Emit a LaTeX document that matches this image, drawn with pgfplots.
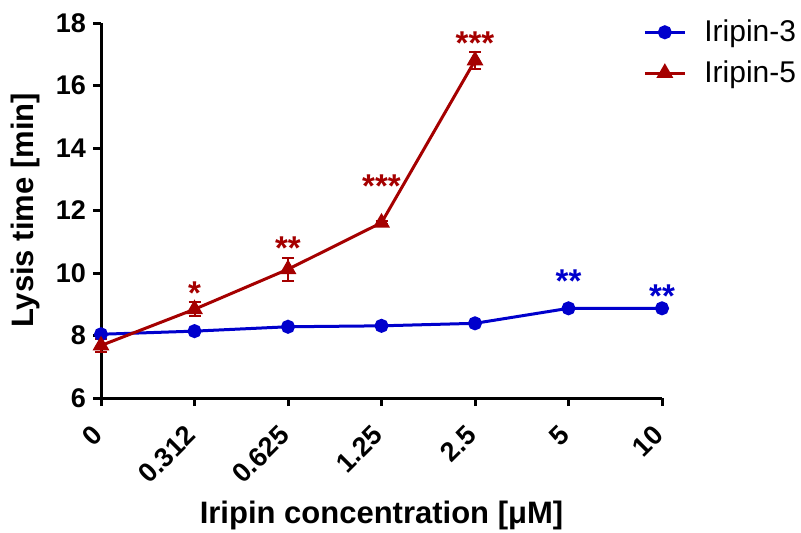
\documentclass[border=0pt]{standalone}
\usepackage{fontspec}
\setmainfont{Liberation Sans}
\usepackage{pgfplots}
\pgfplotsset{compat=1.18}
\definecolor{iriblue}{RGB}{0,0,204}
\definecolor{irired}{RGB}{165,0,0}
\tikzset{stars/.style={font=\bfseries\fontsize{16.5}{18}\selectfont, anchor=base, yshift=-9.6pt}}
\begin{document}
\begin{tikzpicture}
\useasboundingbox (-50.5pt,-67pt) rectangle (350pt,199pt);
\begin{axis}[
    at={(0,0)}, anchor=south west,
    scale only axis, width=280.5pt, height=187.5pt,
    axis lines=left,
    axis line style={-, line width=1.5pt},
    xmin=0, xmax=6, ymin=6, ymax=18,
    xtick={0,...,6},
    xticklabels={0,0.312,0.625,1.25,2.5,5,10},
    ytick={6,8,...,18},
    tick align=outside, major tick length=4pt,
    tick style={line width=1.5pt, black},
    tick label style={font=\bfseries\fontsize{13.5}{16}\selectfont},
    /pgf/number format/assume math mode=true,
    xticklabel style={rotate=45, anchor=east, xshift=1pt},
    xticklabel shift=10.5pt,
    xlabel={Iripin concentration [μM]},
    ylabel={Lysis time [min]},
    label style={font=\bfseries\fontsize{15.5}{18}\selectfont},
    xlabel style={at={(axis description cs:0.5,-0.3333)}, anchor=base},
    ylabel style={at={(axis description cs:-0.121,0.5)}, anchor=base},
    clip=false,
    legend style={draw=none, fill=none, inner sep=0pt,
        at={(axis description cs:0.966,1.02)}, anchor=north west,
        font=\fontsize{15}{18}\selectfont, row sep=4pt},
    legend cell align=left,
    legend image code/.code={\draw[mark repeat=2, mark phase=2]
        plot coordinates {(0pt,0pt) (10pt,0pt) (20pt,0pt)};
        \path (27pt,0pt);},
]

% Iripin-3
\addplot[iriblue, line width=1.5pt, mark=*, mark size=2.75pt]
coordinates {(0,8.04) (1,8.14) (2,8.28) (3,8.31) (4,8.39) (5,8.87) (6,8.87)};

% Iripin-5 with SEM
\addplot[irired, line width=1.5pt, mark=triangle*, mark size=3.4pt,
    error bars/.cd, y dir=both, y explicit,
    error bar style={line width=1pt},
    error mark options={rotate=90, mark size=3pt, line width=1pt}]
coordinates {
(0,7.68) +- (0,0.22)
(1,8.84) +- (0,0.23)
(2,10.12) +- (0,0.36)
(3,11.61) +- (0,0.04)
(4,16.8) +- (0,0.27)
};
\legend{Iripin-3, Iripin-5}

\node[stars, text=irired] at (axis cs:1,9.62) {*};
\node[stars, text=irired] at (axis cs:2,11.06) {**};
\node[stars, text=irired] at (axis cs:3,13.04) {***};
\node[stars, text=irired] at (axis cs:4,17.62) {***};
\node[stars, text=iriblue] at (axis cs:5,10.0) {**};
\node[stars, text=iriblue] at (axis cs:6,9.52) {**};

\end{axis}
\end{tikzpicture}
\end{document}
